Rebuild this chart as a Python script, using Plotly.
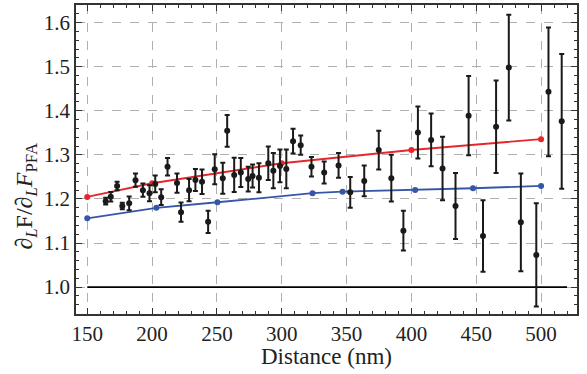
import plotly.graph_objects as go

distance = [164.2,168.1,173.0,177.0,182.3,187.2,192.9,198.0,202.4,207.0,211.9,219.2,222.3,228.5,233.4,
            238.5,243.2,248.3,254.5,257.9,263.3,268.4,274.1,277.5,282.4,289.6,293.5,298.6,303.5,308.7,
            314.6,322.9,332.7,343.8,352.8,363.6,374.8,384.5,393.8,405.0,415.2,424.0,434.0,444.1,455.2,
            465.3,475.1,484.4,496.3,505.7,515.9]
ratio = [1.195,1.205,1.2295,1.184,1.19,1.2425,1.22,1.213,1.234,1.204,1.273,1.236,1.17,1.22,1.243,
         1.239,1.148,1.2675,1.247,1.3545,1.2545,1.26,1.245,1.252,1.248,1.281,1.264,1.275,1.268,1.331,
         1.322,1.273,1.26,1.276,1.215,1.241,1.311,1.247,1.128,1.351,1.334,1.269,1.184,1.389,1.116,
         1.364,1.498,1.147,1.073,1.443,1.376]
err = [0.0076,0.011,0.0095,0.0076,0.0155,0.015,0.015,0.018,0.019,0.018,0.02,0.022,0.022,0.025,0.025,
       0.028,0.025,0.034,0.035,0.036,0.039,0.033,0.028,0.026,0.033,0.038,0.04,0.037,0.044,0.028,
       0.022,0.022,0.025,0.028,0.035,0.035,0.044,0.053,0.045,0.059,0.06,0.072,0.075,0.09,0.081,
       0.105,0.12,0.111,0.117,0.146,0.153]

red_x = [150, 200, 300, 400, 500]
red_y = [1.2045, 1.2356, 1.281, 1.311, 1.3357]
blue_x = [150, 203.3, 250.4, 323.7, 346.9, 402.9, 447.5, 500]
blue_y = [1.156, 1.18, 1.1925, 1.213, 1.2166, 1.2205, 1.2243, 1.2295]
ref_x = [150, 520]
ref_y = [1.0, 1.0]

x_title = "Distance (nm)"
y_title = "∂<sub><i>L</i></sub>F/∂<sub><i>L</i></sub><i>F</i><sub>PFA</sub>"

fig = go.Figure()
fig.add_trace(go.Scatter(x=ref_x, y=ref_y, mode="lines", line=dict(color="black", width=1.8),
                         showlegend=False, hoverinfo="skip"))
fig.add_trace(go.Scatter(x=red_x, y=red_y, mode="lines+markers", line=dict(color="#e8262a", width=1.8),
                         marker=dict(color="#e8262a", size=6), showlegend=False))
fig.add_trace(go.Scatter(x=blue_x, y=blue_y, mode="lines+markers", line=dict(color="#3656a8", width=1.8),
                         marker=dict(color="#3656a8", size=6), showlegend=False))
fig.add_trace(go.Scatter(x=distance, y=ratio, mode="markers",
                         marker=dict(color="#1a1a1a", size=6),
                         error_y=dict(type="data", array=err, visible=True, color="#1a1a1a",
                                      thickness=2, width=2.5),
                         showlegend=False))

font_family = "Liberation Serif"
axis_common = dict(showline=True, linecolor="#333333", linewidth=1.5, mirror="allticks",
                   ticks="inside", tickcolor="#333333", ticklen=6, tickwidth=1,
                   showgrid=True, gridcolor="#b0b0b0", griddash="dash", gridwidth=1,
                   zeroline=False, automargin=False,
                   tickfont=dict(family=font_family, size=21, color="#222222"))

fig.update_xaxes(range=[141.3, 527.7], dtick=50, tick0=150,
                 minor=dict(dtick=10, ticks="inside", ticklen=3, tickcolor="#333333", showgrid=False),
                 **axis_common)
fig.update_yaxes(range=[0.939, 1.64], dtick=0.1, tick0=1.0, tickformat=".1f",
                 minor=dict(dtick=0.02, ticks="inside", ticklen=3, tickcolor="#333333", showgrid=False),
                 **axis_common)

fig.add_annotation(text=x_title, xref="paper", yref="paper", x=0.5, y=-0.0939,
                   xanchor="center", yanchor="top", showarrow=False, borderpad=0,
                   font=dict(family=font_family, size=23, color="#222222"))
fig.add_annotation(text=y_title, xref="paper", yref="paper", x=-0.1317, y=0.38,
                   xanchor="left", yanchor="middle", textangle=-90, showarrow=False, borderpad=0,
                   font=dict(family=font_family, size=24, color="#222222"))

fig.update_layout(width=587, height=374, margin=dict(l=76, r=10, t=5, b=60),
                  plot_bgcolor="white", paper_bgcolor="white", hovermode=False)
fig.write_html("out.html", config={"displayModeBar": False},
               post_script="document.body.style.margin='0px';")
